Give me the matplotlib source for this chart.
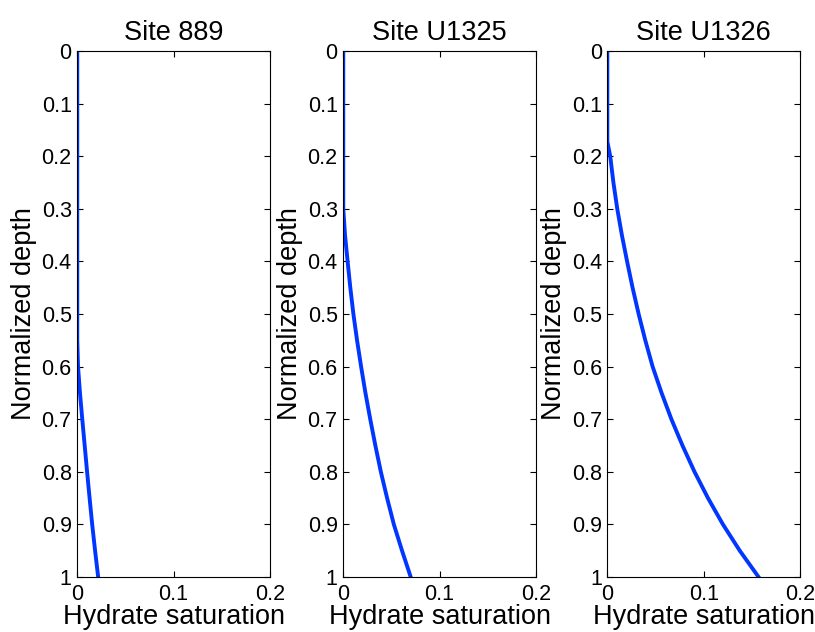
import numpy as np
import matplotlib
matplotlib.use("Agg")
import matplotlib.pyplot as plt
from matplotlib.ticker import FormatStrFormatter

plt.rcParams['font.family'] = ['Liberation Sans', 'DejaVu Sans']

# depth / saturation
titles = ["Site 889", "Site U1325", "Site U1326"]

depth_889 = [0.0, 0.55, 0.6, 0.65, 0.7, 0.75, 0.8, 0.85, 0.9, 0.95, 1.0]
sat_889 = [0.0, 0.0, 0.0008, 0.0028, 0.0052, 0.0077, 0.0102, 0.0128, 0.0155, 0.0185, 0.0217]

depth_1325 = [0.0, 0.3, 0.35, 0.4, 0.45, 0.5, 0.55, 0.6, 0.65, 0.7, 0.75, 0.8, 0.85, 0.9, 0.95, 1.0]
sat_1325 = [0.0, 0.0, 0.0018, 0.0045, 0.0073, 0.0105, 0.0143, 0.0185, 0.023, 0.028, 0.0333,
            0.039, 0.0455, 0.0525, 0.061, 0.070]

depth_1326 = [0.0, 0.172, 0.2, 0.25, 0.3, 0.35, 0.4, 0.45, 0.5, 0.55, 0.6, 0.65, 0.7, 0.75,
              0.8, 0.85, 0.9, 0.95, 1.0]
sat_1326 = [0.0, 0.0, 0.003, 0.0063, 0.0103, 0.0151, 0.0205, 0.0262, 0.0325, 0.0394, 0.047, 0.0563,
            0.0665, 0.078, 0.0905, 0.1045, 0.120, 0.1375, 0.157]

depths = [depth_889, depth_1325, depth_1326]
sats = [sat_889, sat_1325, sat_1326]

x_ticks = [0, 0.1, 0.2]
y_ticks = np.round(np.arange(0, 1.01, 0.1), 1)

fig = plt.figure(figsize=(8.15, 6.32), dpi=100)
lefts = [0.0948, 0.4212, 0.7452]

for i in range(3):
    ax = fig.add_axes([lefts[i], 0.087, 0.2364, 0.8323])
    ax.plot(sats[i], depths[i], color="#0036ff", lw=2.8, solid_joinstyle="round")
    ax.set_xlim(0, 0.2)
    ax.set_ylim(1, 0)
    ax.set_xticks(x_ticks)
    ax.set_yticks(y_ticks)
    ax.xaxis.set_major_formatter(FormatStrFormatter('%g'))
    ax.yaxis.set_major_formatter(FormatStrFormatter('%g'))
    ax.tick_params(direction="in", top=True, right=True, length=4, width=0.8, labelsize=15.5)
    ax.tick_params(axis="y", pad=4)
    ax.tick_params(axis="x", pad=5)
    for s in ax.spines.values():
        s.set_linewidth(0.8)
    ax.set_title(titles[i], fontsize=19.5, pad=8)
    ax.set_xlabel("Hydrate saturation", fontsize=19.5, labelpad=-1)
    ax.set_ylabel("Normalized depth", fontsize=19.5, labelpad=3)

fig.savefig("out.png", dpi=100)
